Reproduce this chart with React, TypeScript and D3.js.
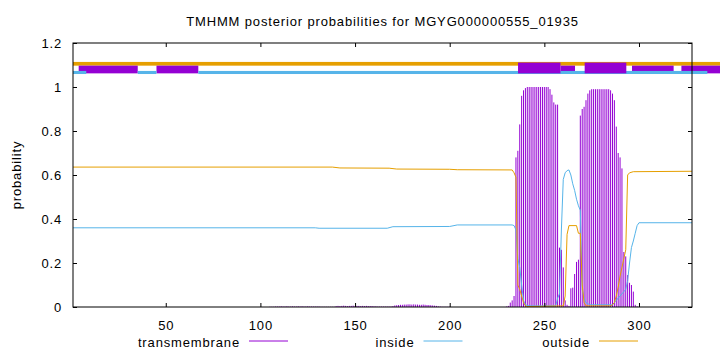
import { useEffect, useRef } from "react"
import * as d3 from "d3"

const TITLE = "TMHMM posterior probabilities for MGYG000000555_01935"
const SEQ_LEN = 328
const X_TICKS = [50, 100, 150, 200, 250, 300]
const Y_TICKS = [0, 0.2, 0.4, 0.6, 0.8, 1, 1.2]

// transmembrane posterior, one value per residue starting at TM_START
const TM_START = 105
const tmValues = [
  0.001, 0.001, 0.001, 0.002, 0.002, 0.002, 0.003, 0.002, 0.002, 0.003,
  0.002, 0.002, 0.003, 0.002, 0.002, 0.003, 0.002, 0.003, 0.002, 0.002,
  0.003, 0.002, 0.002, 0.002, 0.002, 0.002, 0.002, 0.001, 0.001, 0.001,
  0.001, 0.001, 0.001, 0.001, 0.001, 0.004, 0.005, 0.004, 0.005, 0.006,
  0.005, 0.004, 0.005, 0.005, 0.006, 0.004, 0.005, 0.005, 0.004, 0.005,
  0.004, 0.005, 0.004, 0.004, 0.004, 0.003, 0.003, 0.002, 0.002, 0.002,
  0.002, 0.002, 0.002, 0.002, 0.002, 0.004, 0.007, 0.008, 0.009, 0.010,
  0.010, 0.011, 0.011, 0.012, 0.012, 0.011, 0.012, 0.011, 0.011, 0.010,
  0.010, 0.011, 0.010, 0.009, 0.009, 0.008, 0.007, 0.006, 0.005, 0.003,
  0.002, 0.001, 0.001, 0.001, 0.001, 0.001, 0.000, 0.000, 0.000, 0.000,
  0.000, 0.000, 0.000, 0.000, 0.000, 0.000, 0.000, 0.000, 0.000, 0.000,
  0.000, 0.000, 0.000, 0.000, 0.000, 0.000, 0.000, 0.000, 0.000, 0.000,
  0.000, 0.000, 0.000, 0.000, 0.000, 0.002, 0.005, 0.02, 0.03, 0.05,
  0.68, 0.71, 0.83, 0.96, 0.985, 0.995, 1.0, 1.0, 1.0, 1.0,
  1.0, 1.0, 1.0, 1.0, 1.0, 1.0, 1.0, 1.0, 0.99, 0.965,
  0.93, 0.92, 0.92, 0.27, 0.26, 0.18, 0.03, 0.01, 0.005, 0.085,
  0.088, 0.15, 0.205, 0.215, 0.87, 0.9, 0.91, 0.94, 0.97, 0.985,
  0.99, 0.99, 0.99, 0.99, 0.99, 0.99, 0.99, 0.99, 0.99, 0.99,
  0.985, 0.97, 0.94, 0.82, 0.7, 0.68, 0.63, 0.25, 0.23, 0.145,
  0.11, 0.1, 0.07, 0.01, 0.003,
]

// inside / outside posteriors as [residue, probability]
const insidePts: [number, number][] = [
  [1, 0.36], [129, 0.36], [131, 0.358], [167, 0.358], [170, 0.365], [200, 0.366], [204, 0.373],
  [233, 0.373], [234, 0.37], [235, 0.35], [236, 0.22], [237, 0.18], [238, 0.1], [239, 0.03],
  [240, 0.01], [242, 0.005], [256, 0.005], [257, 0.04], [258, 0.06], [259, 0.35], [260, 0.58],
  [261, 0.61], [262, 0.62], [263, 0.623], [264, 0.6], [265, 0.56], [266, 0.53], [267, 0.49],
  [268, 0.46], [269, 0.44], [270, 0.08], [271, 0.04], [272, 0.02], [274, 0.01], [286, 0.01],
  [288, 0.03], [290, 0.05], [292, 0.07], [293, 0.08], [294, 0.12], [295, 0.2], [296, 0.27],
  [297, 0.3], [298, 0.335], [299, 0.37], [300, 0.383], [328, 0.383],
]
const outsidePts: [number, number][] = [
  [1, 0.636], [138, 0.636], [142, 0.632], [168, 0.631], [172, 0.627], [200, 0.626], [204, 0.624],
  [233, 0.623], [234, 0.61], [235, 0.59], [236, 0.1], [237, 0.08], [238, 0.05], [239, 0.02],
  [240, 0.005], [241, 0.002], [260, 0.005], [261, 0.05], [262, 0.33], [263, 0.37], [267, 0.37],
  [268, 0.335], [269, 0.335], [270, 0.1], [271, 0.02], [272, 0.005], [285, 0.005], [286, 0.01],
  [287, 0.02], [288, 0.05], [289, 0.09], [290, 0.14], [291, 0.18], [292, 0.22], [293, 0.26],
  [294, 0.6], [295, 0.61], [297, 0.615], [328, 0.617],
]

// predicted topology strip above the plot: [from, to] residues
const outsideBar: [number, number][] = [[1, 343]]
const tmBoxes: [number, number][] = [[4, 35.2], [45.1, 67.2], [258.5, 266.2], [296.3, 318.3], [322.4, 343]]
const insideBar: [number, number][] = [[1, 8], [35.2, 45.1], [67.2, 336.1]]
const tmTallBoxes: [number, number][] = [[236.1, 258.5], [271.3, 293.3]]

const PURPLE = "#9400d3"
const BLUE = "#56b4e9"
const ORANGE = "#e69f00"
const FONT = "Liberation Sans, Arial, sans-serif"
const FS = "13px"
const LS = "0.85px"

export default function App() {
  const ref = useRef<SVGSVGElement>(null)
  useEffect(() => {
    if (!ref.current) return
    const m = { top: 43, right: 28, bottom: 45, left: 73 }
    const Wt = 720, Ht = 352
    const W = Wt - m.left - m.right
    const H = Ht - m.top - m.bottom
    d3.select(ref.current).selectAll("*").remove()
    const root = d3.select(ref.current)
    const svg = root.append("g").attr("transform", `translate(${m.left},${m.top})`)

    const x = d3.scaleLinear().domain([1, SEQ_LEN]).range([0, W])
    const y = d3.scaleLinear().domain([0, 1.2]).range([H, 0])

    // topology strip
    const strip = (segs: [number, number][], lo: number, hi: number, col: string) =>
      svg.append("g").selectAll("rect").data(segs).join("rect")
        .attr("x", d => x(d[0])).attr("width", d => x(d[1]) - x(d[0]))
        .attr("y", y(hi)).attr("height", y(lo) - y(hi)).attr("fill", col)
    strip(outsideBar, 1.097, 1.114, ORANGE)
    strip(tmBoxes, 1.062, 1.097, PURPLE)
    strip(insideBar, 1.059, 1.073, BLUE)
    strip(tmTallBoxes, 1.062, 1.111, PURPLE)

    // transmembrane impulses
    const tm = tmValues.map((v, i) => ({ r: TM_START + i, v })).filter(d => d.v > 0)
    svg.append("g").selectAll("line").data(tm).join("line")
      .attr("x1", d => x(d.r)).attr("x2", d => x(d.r))
      .attr("y1", y(0)).attr("y2", d => y(d.v))
      .attr("stroke", PURPLE).attr("stroke-width", 1)

    const line = d3.line<[number, number]>().x(d => x(d[0])).y(d => y(d[1]))
    svg.append("path").attr("d", line(insidePts)).attr("fill", "none").attr("stroke", BLUE).attr("stroke-width", 1)
    svg.append("path").attr("d", line(outsidePts)).attr("fill", "none").attr("stroke", ORANGE).attr("stroke-width", 1)

    // frame and mirrored ticks
    svg.append("rect").attr("x", 0).attr("y", 0).attr("width", W).attr("height", H)
      .attr("fill", "none").attr("stroke", "#000").attr("stroke-width", 1)
    const style = (g: any) => {
      g.select(".domain").remove()
      g.selectAll("line").attr("stroke", "#000")
      g.selectAll("text").style("font-family", FONT).style("font-size", FS).style("letter-spacing", LS).attr("fill", "#000")
    }
    const fmt = (d: any) => String(+(+d).toFixed(1))
    svg.append("g").attr("transform", `translate(0,${H})`)
      .call(d3.axisBottom(x).tickValues(X_TICKS).tickSize(-4).tickPadding(14).tickFormat(fmt)).call(style)
    svg.append("g")
      .call(d3.axisTop(x).tickValues(X_TICKS).tickSize(-4).tickFormat(() => "")).call(style)
    svg.append("g")
      .call(d3.axisLeft(y).tickValues(Y_TICKS).tickSize(-4).tickPadding(11).tickFormat(fmt)).call(style)
    svg.append("g").attr("transform", `translate(${W},0)`)
      .call(d3.axisRight(y).tickValues(Y_TICKS).tickSize(-4).tickFormat(() => "")).call(style)

    const txt = (sel: any) => sel.style("font-family", FONT).style("font-size", FS).style("letter-spacing", LS)
    root.append("text").attr("x", m.left + W / 2).attr("y", 26).attr("text-anchor", "middle").call(txt).text(TITLE)
    root.append("text").attr("transform", `translate(21,${m.top + H / 2}) rotate(-90)`).attr("text-anchor", "middle")
      .call(txt).text("probability")

    const legend = [
      { label: "transmembrane", col: PURPLE, end: 240 },
      { label: "inside", col: BLUE, end: 414.5 },
      { label: "outside", col: ORANGE, end: 590 },
    ]
    legend.forEach(l => {
      root.append("text").attr("x", l.end).attr("y", 346.5).attr("text-anchor", "end").call(txt).text(l.label)
      root.append("line").attr("x1", l.end + 9).attr("x2", l.end + 48).attr("y1", 341).attr("y2", 341)
        .attr("stroke", l.col).attr("stroke-width", 1)
    })
  }, [])
  return <svg ref={ref} width={720} height={352} style={{ position: "absolute", left: 0, top: 0, display: "block" }} />
}
